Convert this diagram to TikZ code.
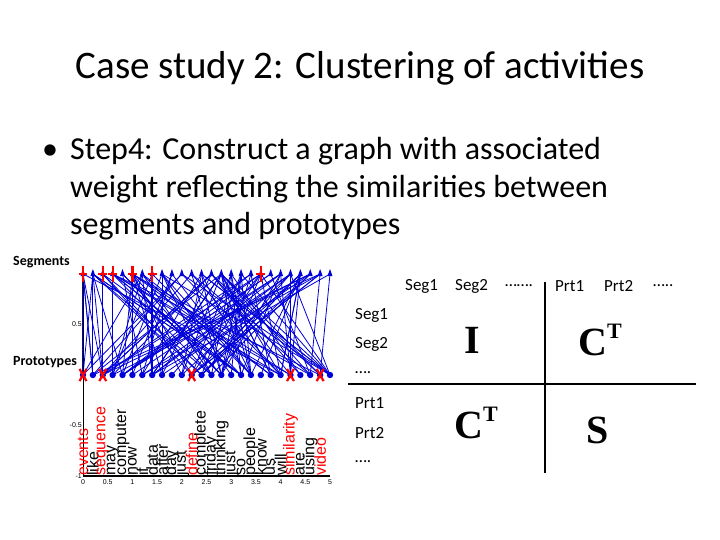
\documentclass[tikz,border=0pt]{standalone}
\usepackage{fontspec}
\setmainfont{Carlito}
\newfontfamily\arialf{Liberation Sans}
\newfontfamily\timesf{Liberation Serif}
\newcommand{\supT}{\raisebox{0.9ex}{\fontsize{22}{22}\selectfont T}}
\begin{document}
\begin{tikzpicture}[x=1pt,y=-1pt,
  lbl/.style={font=\fontsize{17}{19}\selectfont,inner sep=0pt,anchor=west},
  big/.style={font=\timesf\bfseries\fontsize{40}{42}\selectfont,inner sep=0pt},
  word/.style={font=\arialf\fontsize{16}{16}\selectfont,rotate=90,anchor=west,inner sep=0pt},
  tick/.style={font=\arialf\fontsize{7}{7}\selectfont,inner sep=1pt}]
\useasboundingbox (0,0) rectangle (720,540);
\node (title) at (360,68) {\fontsize{39}{44}\selectfont Case study 2: Clustering of activities};
\node[anchor=base west,inner sep=0pt] (bul) at (42,160) {\fontsize{32}{36}\selectfont •};
\node[anchor=base west,inner sep=0pt] (l1) at (70,160) {\fontsize{32}{36}\selectfont Step4: Construct a graph with associated};
\node[anchor=base west,inner sep=0pt] (l2) at (70,198) {\fontsize{32}{36}\selectfont weight reflecting the similarities between};
\node[anchor=base west,inner sep=0pt] (l3) at (70,235) {\fontsize{32}{36}\selectfont segments and prototypes};
% plot
\begin{scope}[shift={(83,375)},x=49.4pt,y=101pt]
  \pgfmathsetseed{11}
  \foreach \k in {1,...,140}{
    \pgfmathrandominteger{\a}{0}{25}
    \pgfmathrandominteger{\b}{0}{25}
    \draw[blue!85!black,line width=0.8pt] (\a*0.2,1) -- (\b*0.2,0);
  }
  \foreach \i in {0,2,3,5,7}{\draw[blue!85!black,line width=1.4pt] (\i*0.2,1) -- (\i*0.2,0);}
  \draw[black,line width=0.5pt] (0,1) -- (0,-1);
  \draw[black,line width=1.5pt] (0,-1) -- (5,-1);
  \foreach \v/\t in {0.5/0.5,-0.5/-0.5,-1/-1}{\node[tick,anchor=east] at (0,\v) {\t};}
  \foreach \v in {0,0.5,1,1.5,2,2.5,3,3.5,4,4.5,5}{\node[tick,anchor=north] at (\v,-1.02) {\v};}
  \foreach \i in {0,...,25}{
    \fill[blue!85!black] (\i*0.2,1.05) -- (\i*0.2-0.05,0.98) -- (\i*0.2+0.05,0.98) -- cycle;
    \fill[blue!85!black] (\i*0.2,0) circle (3.2pt);
  }
  \foreach \i in {0,0.4,0.6,1.0,1.4,3.6}{
    \draw[red,line width=2.2pt] (\i-0.09,1) -- (\i+0.09,1) (\i,1.08) -- (\i,0.92);
  }
  \foreach \i in {0,0.4,2.2,4.2,4.8}{
    \draw[red,line width=2.2pt] (\i-0.07,0.06) -- (\i+0.07,-0.06) (\i-0.07,-0.06) -- (\i+0.07,0.06);
  }
  \foreach [count=\n from 0] \w in {events,like,sequence,may,computer,now,if,data,after,day,just,define,complete,friday,thinking,just,so,people,know,us,will,similarity,are,using,video}{
    \pgfmathsetmacro{\xx}{\n*0.2}
    \ifnum\n=0 \def\cc{red}\else\ifnum\n=2 \def\cc{red}\else\ifnum\n=11 \def\cc{red}\else\ifnum\n=21 \def\cc{red}\else\ifnum\n=24 \def\cc{red}\else\def\cc{black}\fi\fi\fi\fi\fi
    \node[word,text=\cc] at (\xx,-1) {\w};
  }
\end{scope}
\node[lbl,font=\bfseries\fontsize{14}{16}\selectfont] (seg) at (13,262) {Segments};
\node[lbl,font=\bfseries\fontsize{14}{16}\selectfont] (prt) at (13,362) {Prototypes};
% matrix
\draw[line width=2.5pt] (545,282) -- (545,473);
\draw[line width=2.5pt] (348,384) -- (696,384);
\node[lbl] at (405,286) {Seg1};
\node[lbl] at (455,286) {Seg2};
\node[lbl] at (505,286) {…….};
\node[lbl] at (555,286) {Prt1};
\node[lbl] at (604,286) {Prt2};
\node[lbl] at (653,286) {…..};
\node[lbl] at (355,315) {Seg1};
\node[lbl] at (355,344) {Seg2};
\node[lbl] at (355,373) {….};
\node[lbl] at (355,403) {Prt1};
\node[lbl] at (355,433) {Prt2};
\node[lbl] at (355,462) {….};
\node[big] (I) at (472,340) {I};
\node[big] (C1) at (600,340) {C\supT};
\node[big] (C2) at (476,423) {C\supT};
\node[big] (S) at (598,430) {S};
\end{tikzpicture}
\end{document}
